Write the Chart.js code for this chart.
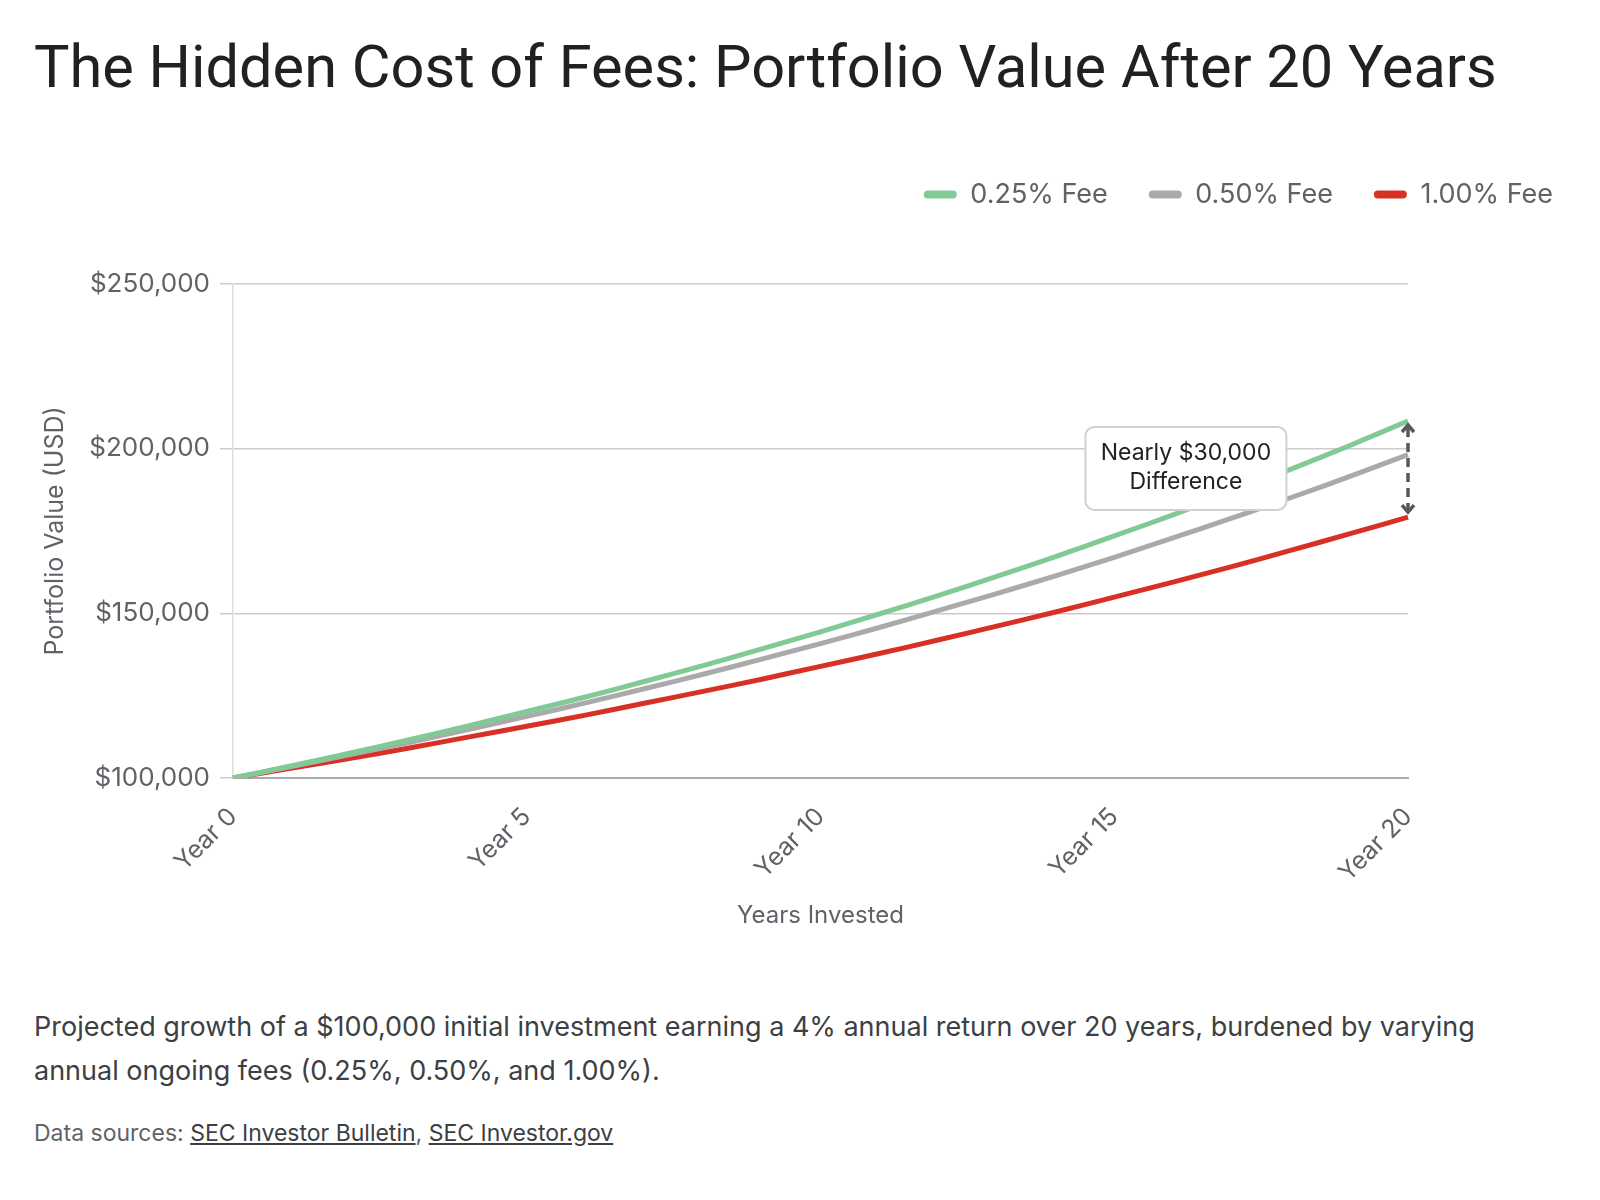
<!DOCTYPE html>
<html>
<head>
<meta charset="utf-8">
<title>The Hidden Cost of Fees</title>
<script src="https://cdn.jsdelivr.net/npm/chart.js@4.4.0/dist/chart.umd.min.js"></script>
<style>
  body { margin: 0; background: #fff; font-family: Inter, "Noto Sans", sans-serif; }
  #title { position: absolute; left: 34px; top: 38px; margin: 0; font-family: Roboto, "Noto Sans", sans-serif; font-size: 59.5px; font-weight: 400; line-height: 1; color: #202124; white-space: nowrap; }
  #wrap { position: absolute; left: 0; top: 0; width: 1600px; height: 944px; }
  #desc { position: absolute; left: 34px; top: 1005px; width: 1540px; margin: 0; font-size: 27px; line-height: 44px; color: #3c4043; }
  #src { position: absolute; left: 34px; top: 1120px; margin: 0; font-size: 23px; line-height: 27px; color: #5f6368; }
  #src a { color: #3c4043; text-decoration: underline; }
</style>
</head>
<body>
<h1 id="title">The Hidden Cost of Fees: Portfolio Value After 20 Years</h1>
<div id="wrap"><canvas id="feesChart"></canvas></div>
<p id="desc">Projected growth of a $100,000 initial investment earning a 4% annual return over 20 years, burdened by varying<br>annual ongoing fees (0.25%, 0.50%, and 1.00%).</p>
<p id="src">Data sources: <a href="#">SEC Investor Bulletin</a>, <a href="#">SEC Investor.gov</a></p>

<script>
const yearLabels = ["Year 0", "Year 1", "Year 2", "Year 3", "Year 4", "Year 5", "Year 6", "Year 7",
  "Year 8", "Year 9", "Year 10", "Year 11", "Year 12", "Year 13", "Year 14", "Year 15",
  "Year 16", "Year 17", "Year 18", "Year 19", "Year 20"];
const shownYears = [0, 5, 10, 15, 20];

// portfolio value per year
const fee025 = [100000, 103700, 107600, 111600, 115800, 120200, 124600, 129300, 134100, 139200,
  144400, 149800, 155400, 161200, 167200, 173500, 179900, 186700, 193700, 200900, 208400];
const fee050 = [100000, 103500, 107100, 110800, 114700, 118700, 122800, 127100, 131500, 136100,
  140800, 145700, 150800, 156000, 161400, 167000, 172900, 178900, 185100, 191500, 198200];
const fee100 = [100000, 103000, 106000, 109100, 112400, 115700, 119100, 122700, 126300, 130000,
  133900, 137800, 141900, 146100, 150400, 154900, 159500, 164200, 169100, 174100, 179200];

const seriesNames = ["0.25% Fee", "0.50% Fee", "1.00% Fee"];
const seriesColors = ["#81c995", "#aaaaaa", "#d93025"];
const yTicks = [100000, 150000, 200000, 250000];

const calloutLines = ["Nearly $30,000", "Difference"];
const calloutAt = { year: 16.22, value: 194000 };

const FONT = "Inter, 'Noto Sans', sans-serif";
Chart.defaults.font.family = FONT;

const money = (v) => "$" + Number(v).toLocaleString("en-US");

// leave room between the legend and the plot
const legendGap = {
  id: "legendGap",
  beforeInit(chart) {
    const fit = chart.legend.fit;
    chart.legend.fit = function () {
      fit.call(this);
      this.height += 66;
    };
  }
};

const gapCallout = {
  id: "gapCallout",
  afterDatasetsDraw(chart) {
    const { ctx, scales: { x, y } } = chart;
    const last = yearLabels.length - 1;
    const px = x.getPixelForValue(last);
    const top = y.getPixelForValue(fee025[last]) + 4;
    const bot = y.getPixelForValue(fee100[last]) - 5;

    ctx.save();
    ctx.strokeStyle = "#55595e";
    ctx.lineWidth = 3.5;
    ctx.setLineDash([9, 6]);
    ctx.beginPath();
    ctx.moveTo(px, top + 3);
    ctx.lineTo(px, bot - 3);
    ctx.stroke();
    ctx.setLineDash([]);
    ctx.beginPath();
    ctx.moveTo(px - 6, top + 7);
    ctx.lineTo(px, top);
    ctx.lineTo(px + 6, top + 7);
    ctx.moveTo(px - 6, bot - 7);
    ctx.lineTo(px, bot);
    ctx.lineTo(px + 6, bot - 7);
    ctx.stroke();

    // label box
    const cx = x.getPixelForValue(calloutAt.year);
    const cy = y.getPixelForValue(calloutAt.value);
    const w = 201, h = 83;
    ctx.beginPath();
    ctx.roundRect(cx - w / 2, cy - h / 2, w, h, 9);
    ctx.fillStyle = "#ffffff";
    ctx.fill();
    ctx.lineWidth = 2;
    ctx.strokeStyle = "#d0d0d0";
    ctx.stroke();
    ctx.fillStyle = "#202124";
    ctx.font = "23px " + FONT;
    ctx.textAlign = "center";
    ctx.textBaseline = "middle";
    ctx.fillText(calloutLines[0], cx, cy - 15);
    ctx.fillText(calloutLines[1], cx, cy + 14);
    ctx.restore();
  }
};

new Chart(document.getElementById("feesChart"), {
  type: "line",
  data: {
    labels: yearLabels,
    datasets: [fee025, fee050, fee100].map((vals, i) => ({
      label: seriesNames[i],
      data: vals,
      borderColor: seriesColors[i],
      backgroundColor: seriesColors[i],
      borderWidth: 5,
      pointRadius: 0,
      tension: 0.3,
      fill: false
    }))
  },
  options: {
    responsive: true,
    maintainAspectRatio: false,
    animation: false,
    layout: { padding: { top: 140, left: 30, right: 6, bottom: 4 } },
    plugins: {
      tooltip: { enabled: false },
      legend: {
        position: "top",
        align: "end",
        labels: {
          font: { size: 27 },
          color: "#5f6368",
          boxWidth: 33,
          boxHeight: 8,
          padding: 41,
          useBorderRadius: true,
          borderRadius: 4,
          generateLabels: (chart) =>
            Chart.defaults.plugins.legend.labels.generateLabels(chart).map((l) => ({ ...l, lineWidth: 0 }))
        }
      }
    },
    scales: {
      x: {
        grid: { display: false, drawTicks: false },
        border: { color: "#aaaaaa", width: 2 },
        ticks: {
          autoSkip: false,
          minRotation: 45,
          maxRotation: 45,
          padding: 24,
          color: "#5f6368",
          font: { size: 25 },
          callback: (v, i) => (shownYears.includes(i) ? yearLabels[i] : null)
        },
        title: {
          display: true,
          text: "Years Invested",
          color: "#5f6368",
          font: { size: 24 },
          padding: { top: 0, bottom: 10 }
        },
        afterFit: (s) => { s.height = 162; }
      },
      y: {
        min: 100000,
        max: 250000,
        grid: { color: "#cccccc", lineWidth: 1.5, tickLength: 13 },
        border: { color: "#dddddd", width: 1.5 },
        ticks: {
          padding: 10,
          color: "#5f6368",
          font: { size: 26 },
          callback: (v) => money(v)
        },
        afterBuildTicks: (s) => { s.ticks = yTicks.map((v) => ({ value: v })); },
        title: {
          display: true,
          text: "Portfolio Value (USD)",
          color: "#5f6368",
          font: { size: 25 },
          padding: { top: 10, bottom: 0 }
        },
        afterFit: (s) => { s.width = 203; }
      },
      yPad: {
        position: "right",
        grid: { display: false },
        border: { display: false },
        ticks: { display: false },
        afterFit: (s) => { s.width = 186; }
      }
    }
  },
  plugins: [legendGap, gapCallout]
});
</script>
</body>
</html>
